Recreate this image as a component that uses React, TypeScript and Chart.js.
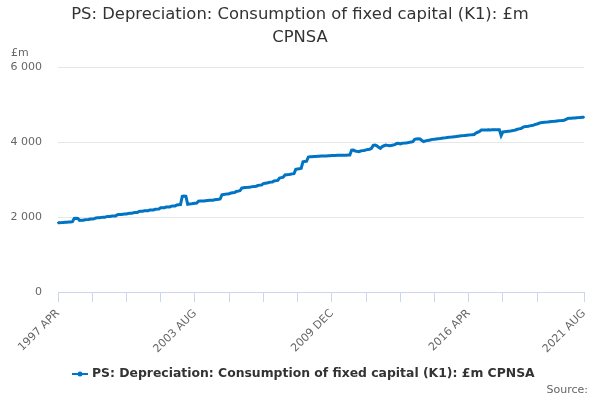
import { useEffect, useRef } from "react";
import { Chart, registerables } from "chart.js";

Chart.register(...registerables);

const TITLE = ["PS: Depreciation: Consumption of fixed capital (K1): £m", "CPNSA"];
const SERIES_LABEL = "PS: Depreciation: Consumption of fixed capital (K1): £m CPNSA";
const MONTHS = ["JAN", "FEB", "MAR", "APR", "MAY", "JUN", "JUL", "AUG", "SEP", "OCT", "NOV", "DEC"];
const START_YEAR = 1997;
const START_MONTH = 3; // APR

// monthly values, £m, 1997 APR .. 2021 AUG
const values = [
  1845, 1845, 1850, 1855, 1860, 1860, 1870, 1870, 1875, // 1997
  1960, 1965, 1960, 1910, 1912, 1915, 1925, 1930, 1932, 1945, 1948, 1950, // 1998
  1975, 1978, 1980, 1990, 1995, 1995, 2010, 2012, 2015, 2025, 2030, 2030, // 1999
  2060, 2065, 2065, 2075, 2080, 2082, 2095, 2098, 2100, 2115, 2120, 2120, // 2000
  2150, 2155, 2155, 2165, 2170, 2170, 2185, 2190, 2190, 2205, 2210, 2212, // 2001
  2245, 2250, 2250, 2265, 2270, 2270, 2290, 2295, 2295, 2320, 2325, 2330, // 2002
  2550, 2560, 2550, 2340, 2345, 2350, 2360, 2365, 2370, 2420, 2425, 2430, // 2003
  2430, 2435, 2440, 2445, 2450, 2450, 2460, 2465, 2470, 2480, 2590, 2600, // 2004
  2610, 2615, 2620, 2640, 2645, 2650, 2680, 2690, 2700, 2770, 2780, 2785, // 2005
  2790, 2795, 2800, 2810, 2815, 2820, 2840, 2850, 2855, 2890, 2900, 2905, // 2006
  2920, 2930, 2935, 2960, 2970, 2975, 3040, 3050, 3060, 3120, 3125, 3130, // 2007
  3140, 3150, 3155, 3270, 3280, 3285, 3300, 3470, 3480, 3490, 3600, 3610, // 2008
  3610, 3615, 3615, 3620, 3620, 3625, 3625, 3630, 3630, 3635, 3635, 3640, // 2009
  3640, 3640, 3645, 3645, 3645, 3650, 3650, 3650, 3655, 3655, 3780, 3785, // 2010
  3760, 3750, 3740, 3760, 3770, 3775, 3790, 3800, 3805, 3830, 3910, 3920, // 2011
  3900, 3860, 3830, 3880, 3900, 3920, 3910, 3900, 3905, 3920, 3930, 3960, // 2012
  3965, 3950, 3965, 3970, 3975, 3980, 3990, 4000, 4010, 4070, 4080, 4085, // 2013
  4080, 4040, 4010, 4030, 4040, 4045, 4060, 4070, 4075, 4080, 4085, 4090, // 2014
  4100, 4105, 4110, 4120, 4125, 4130, 4135, 4140, 4145, 4155, 4160, 4165, // 2015
  4170, 4175, 4180, 4185, 4190, 4195, 4200, 4240, 4260, 4280, 4320, 4320, // 2016
  4320, 4320, 4325, 4320, 4325, 4325, 4325, 4330, 4330, 4170, 4270, 4275, // 2017
  4280, 4285, 4290, 4300, 4310, 4320, 4340, 4350, 4360, 4390, 4410, 4415, // 2018
  4420, 4430, 4440, 4450, 4470, 4480, 4500, 4515, 4520, 4525, 4530, 4535, // 2019
  4540, 4545, 4550, 4555, 4560, 4565, 4570, 4575, 4580, 4600, 4630, 4635, // 2020
  4635, 4640, 4640, 4645, 4650, 4655, 4660, 4660, // 2021
];

const labels = values.map((_, i) => {
  const m = START_MONTH + i;
  return `${START_YEAR + Math.floor(m / 12)} ${MONTHS[m % 12]}`;
});

const Y_MIN = 0;
const Y_MAX = 6000;
const Y_STEP = 2000;
const LABEL_EVERY = 76; // months between x labels
const TICK_EVERY = 19; // months between tick marks

const FONT = "'DejaVu Sans', sans-serif";
const LINE_COLOR = "#0075c4";

const isLast = (i: number) => i === labels.length - 1;
const hasTick = (i: number) => isLast(i) || (i % TICK_EVERY === 0 && i <= labels.length - 1 - TICK_EVERY);

// title, unit, legend and source drawn on top of the chart
const textPlugin = {
  id: "extraTexts",
  afterDraw(chart: Chart) {
    const { ctx } = chart;
    ctx.save();
    ctx.fillStyle = "#333333";
    ctx.font = `16.4px ${FONT}`;
    ctx.textAlign = "center";
    ctx.textBaseline = "middle";
    ctx.fillText(TITLE[0], 300, 15);
    ctx.fillText(TITLE[1], 300, 38);

    // legend
    const ly = 374;
    ctx.strokeStyle = LINE_COLOR;
    ctx.lineWidth = 2;
    ctx.beginPath();
    ctx.moveTo(72, ly);
    ctx.lineTo(88, ly);
    ctx.stroke();
    ctx.fillStyle = LINE_COLOR;
    ctx.beginPath();
    ctx.arc(80, ly, 2.5, 0, Math.PI * 2);
    ctx.fill();
    const ds = chart.data.datasets[0];
    ctx.fillStyle = "#333333";
    ctx.font = `bold 12.4px ${FONT}`;
    ctx.textAlign = "left";
    ctx.fillText(String(ds.label), 92, ly);

    ctx.fillStyle = "#666666";
    ctx.font = `11px ${FONT}`;
    ctx.fillText("£m", 11, 53);
    ctx.textAlign = "right";
    ctx.fillText("Source:", 588, 390);
    ctx.restore();
  },
};

export default function App() {
  const canvasRef = useRef<HTMLCanvasElement>(null);
  const chartRef = useRef<Chart<"line"> | null>(null);

  useEffect(() => {
    if (!canvasRef.current) return;
    if (chartRef.current) chartRef.current.destroy();

    chartRef.current = new Chart(canvasRef.current, {
      type: "line",
      data: {
        labels,
        datasets: [
          {
            label: SERIES_LABEL,
            data: values,
            borderColor: LINE_COLOR,
            backgroundColor: LINE_COLOR,
            borderWidth: 3,
            pointRadius: 1,
            pointBorderWidth: 0,
            pointBackgroundColor: LINE_COLOR,
            tension: 0,
          },
        ],
      },
      options: {
        animation: false,
        responsive: true,
        maintainAspectRatio: false,
        layout: { padding: { top: 67, right: 16, bottom: 44, left: 0 } },
        plugins: {
          title: { display: false },
          tooltip: { enabled: false },
          legend: { display: false },
        },
        scales: {
          x: {
            type: "category",
            offset: false,
            afterFit: (scale) => {
              scale.height = 64;
            },
            grid: {
              display: true,
              drawOnChartArea: false,
              drawTicks: true,
              tickLength: 10,
              color: (ctx) => (hasTick(ctx.index) ? "#ccd6eb" : "rgba(0,0,0,0)"),
            },
            border: { display: true, color: "#ccd6eb" },
            ticks: {
              autoSkip: false,
              maxRotation: 45,
              minRotation: 45,
              padding: 5,
              color: "#666666",
              font: { family: FONT, size: 11 },
              callback: (_v, i) => (i % LABEL_EVERY === 0 || isLast(i) ? labels[i] : ""),
            },
          },
          y: {
            min: Y_MIN,
            max: Y_MAX,
            afterFit: (scale) => {
              scale.width = 58;
            },
            grid: { color: "#e6e6e6", drawTicks: false },
            border: { display: false },
            ticks: {
              stepSize: Y_STEP,
              padding: 16,
              color: "#666666",
              font: { family: FONT, size: 11 },
              callback: (v) => String(v).replace(/\B(?=(\d{3})+(?!\d))/g, " "),
            },
          },
        },
      },
      plugins: [textPlugin],
    });

    return () => {
      if (chartRef.current) {
        chartRef.current.destroy();
        chartRef.current = null;
      }
    };
  }, []);

  return (
    <div style={{ position: "absolute", left: 0, top: 0, width: 600, height: 400 }}>
      <canvas ref={canvasRef} />
    </div>
  );
}
